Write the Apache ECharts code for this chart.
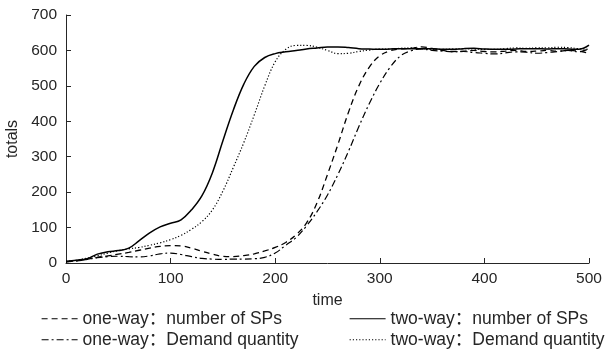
<!DOCTYPE html>
<html><head><meta charset="utf-8">
<script src="https://cdn.jsdelivr.net/npm/echarts@6/dist/echarts.min.js"></script>
<style>html,body{margin:0;padding:0;background:#fff}#c{width:610px;height:350px}</style>
</head><body><div id="c"></div>
<script>
const times = [0,10,20,30,40,50,60,70,80,90,100,110,120,130,140,150,160,170,180,190,200,210,220,230,240,250,260,270,280,290,300,310,320,330,340,350,360,370,380,390,400,410,420,430,440,450,460,470,480,490,500];
const oneWaySPs = [3,6,10,16,20,25,30,36,42,47,49,48,42,33,25,19,18,21,26,34,44,58,80,113,170,250,335,425,500,553,585,599,604,606,610,606,600,597,598,600,597,596,598,600,597,598,600,598,600,598,592];
const oneWayDemand = [3,6,10,15,18,19,18,17,20,26,28,24,18,13,11,10,11,11,12,16,28,50,72,105,145,192,250,315,385,450,507,553,585,599,604,600,598,596,597,594,592,590,593,596,595,592,594,597,600,596,605];
const twoWaySPs = [5,8,12,25,32,35,42,63,85,102,112,122,150,190,255,345,432,505,555,580,591,596,600,604,607,610,610,608,605,604,603,604,605,605,605,605,603,603,605,606,604,603,603,604,605,605,604,605,604,603,615];
const twoWayDemand = [4,8,14,20,28,35,40,44,50,57,66,78,95,117,150,203,270,340,418,500,568,603,614,614,609,600,591,592,597,601,604,604,606,607,605,603,603,604,605,604,603,603,605,607,606,607,607,609,608,605,603];
const seriesNames = ['one-way：number of SPs','one-way：Demand quantity','two-way：number of SPs','two-way：Demand quantity'];
const xTicks = [0,100,200,300,400,500];
const yTicks = [0,100,200,300,400,500,600,700];

const pair = arr => times.map((t,i)=>[t,arr[i]]);
const font = '"Liberation Sans", Arial, "Noto Sans CJK SC", sans-serif';
const txt = '#262626';
const styles = [
  {type:[6,4], width:1.3},
  {type:[7,3,2,3], width:1.2},
  {type:'solid', width:1.5},
  {type:[1.2,2], width:1.2}
];
const datas = [oneWaySPs, oneWayDemand, twoWaySPs, twoWayDemand];
const chart = echarts.init(document.getElementById('c'));
const legendPos = [[41,310],[41,331],[349,310],[349,331]];
chart.setOption({
  animation:false,
  grid:{left:66,right:21,top:15,bottom:87,containLabel:false,outerBoundsMode:'none'},
  xAxis:{type:'value',min:xTicks[0],max:xTicks[xTicks.length-1],interval:100,
    name:'time',nameLocation:'middle',nameGap:30,
    nameTextStyle:{color:txt,fontSize:16,fontFamily:font},
    axisLine:{lineStyle:{color:txt,width:1}},
    axisTick:{inside:true,length:5,lineStyle:{color:txt}},
    axisLabel:{color:txt,fontSize:15.5,fontFamily:font,margin:8},
    splitLine:{show:false}},
  yAxis:{type:'value',min:yTicks[0],max:yTicks[yTicks.length-1],interval:100,
    name:'totals',nameLocation:'middle',nameGap:38,
    nameTextStyle:{color:txt,fontSize:16,fontFamily:font},
    axisLine:{show:true,lineStyle:{color:txt,width:1}},
    axisTick:{show:true,inside:true,length:5,lineStyle:{color:txt}},
    axisLabel:{color:txt,fontSize:15.5,fontFamily:font,margin:9},
    splitLine:{show:false}},
  legend: seriesNames.map((n,i)=>({
    data:[n], left:legendPos[i][0], top:legendPos[i][1], padding:0,
    itemWidth:36, itemHeight:14, itemGap:5,
    textStyle:{color:txt,fontSize:17.5,fontFamily:font},
    itemStyle:{color:'rgba(0,0,0,0)',borderWidth:0,opacity:0},
    lineStyle:{type:styles[i].type,width:1.2,color:'#000'}
  })),
  series: seriesNames.map((n,i)=>({
    name:n, type:'line', data:pair(datas[i]), smooth:0.4, symbol:'none',
    lineStyle:{color:'#000',width:styles[i].width,type:styles[i].type},
    itemStyle:{color:'#000'}, z: i===2?5:3
  }))
});
</script></body></html>
